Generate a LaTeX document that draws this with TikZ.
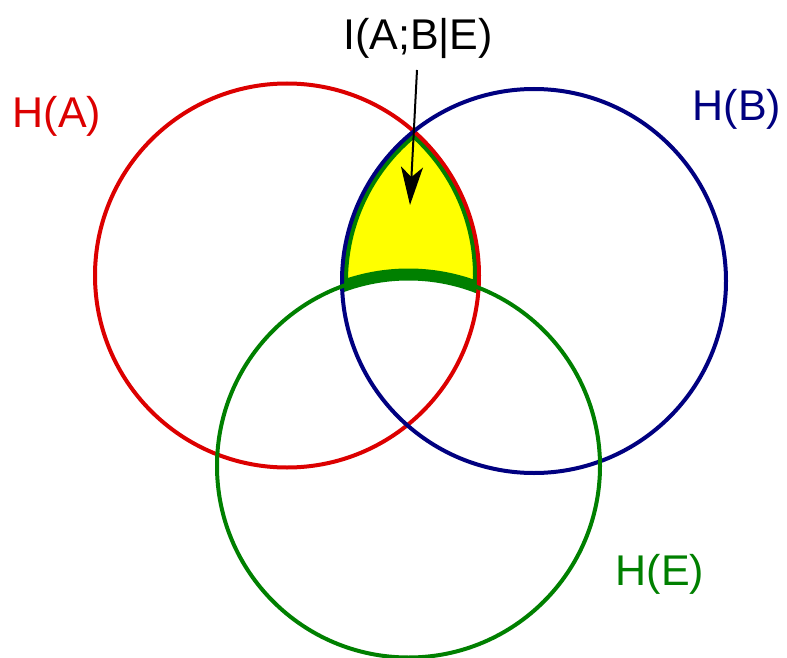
\documentclass[tikz,border=0pt]{standalone}
\usepackage{fontspec}
\setmainfont{Liberation Sans}
\usetikzlibrary{arrows.meta}
\definecolor{cred}{RGB}{220,0,0}
\definecolor{cblue}{RGB}{0,0,128}
\definecolor{cgreen}{RGB}{0,128,0}
\definecolor{cyellow}{RGB}{255,255,0}
\definecolor{cwhite}{RGB}{255,255,255}
\tikzset{
  circ/.style={line width=4pt},
  lbl/.style={anchor=base, inner sep=0pt, font=\fontsize{43}{50}\selectfont},
}
\begin{document}
\begin{tikzpicture}[x=1pt,y=-1pt]
\useasboundingbox[fill=cwhite] (0,0) rectangle (787,658);
\coordinate (ca) at (287,275.5);
\coordinate (cb) at (534,281);
\coordinate (ce) at (408.5,466);
% yellow region: A and B, not E
\begin{scope}
  \clip (ca) circle[radius=192pt];
  \clip (cb) circle[radius=192pt];
  \fill[cyellow] (0,0) rectangle (787,658);
  \draw[cgreen, line width=12pt] (ca) circle[radius=192pt] (cb) circle[radius=192pt];
  \fill[cwhite] (ce) circle[radius=191.5pt];
  \draw[cgreen, line width=12pt] (ce) circle[radius=191.5pt];
\end{scope}
\draw[circ, cred] (ca) circle[radius=192pt];
\draw[circ, cblue] (cb) circle[radius=192pt];
\draw[circ, cgreen] (ce) circle[radius=191.5pt];
% labels
\node[lbl, text=cred] (ha) at (57,128) {H(A)};
\node[lbl, text=cblue] (hb) at (737,121) {H(B)};
\node[lbl, text=cgreen] (he) at (660,585) {H(E)};
\node[lbl] (iab) at (418,50) {I(A;B|E)};
\coordinate (as) at (417,70);
\coordinate (ae) at (410,205);
\draw[line width=2pt, -{Stealth[length=38pt,width=22pt,inset=10pt]}] (as) -- (ae);
\end{tikzpicture}
\end{document}
